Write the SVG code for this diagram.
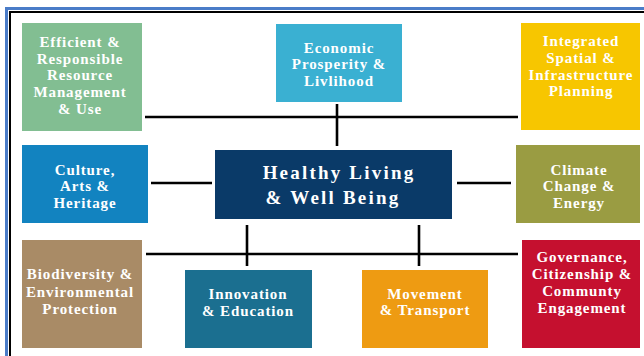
<svg xmlns="http://www.w3.org/2000/svg" width="644" height="356" viewBox="0 0 644 356">
  <style>
    .lbl { font-family: "Liberation Serif", "Times New Roman", serif; font-weight: bold; font-size: 15px; letter-spacing: 0.9px; fill: #ffffff; text-anchor: middle; }
    .big { font-size: 19px; letter-spacing: 2.2px; }
    .link { stroke: #000000; stroke-width: 2.6; fill: none; }
  </style>
  <rect x="0" y="0" width="644" height="356" fill="#ffffff"/>
  <!-- frame: blue outer edge with a thin black inner rule -->
  <rect x="6.5" y="8.5" width="660" height="370" fill="none" stroke="#4a7cc8" stroke-width="3"/>
  <rect x="10" y="12" width="650" height="360" fill="none" stroke="#000000" stroke-width="2"/>

  <g id="connectors">
    <line class="link" x1="145" y1="117" x2="518" y2="117"/>
    <line class="link" x1="337" y1="104" x2="337" y2="146"/>
    <line class="link" x1="151" y1="183" x2="212" y2="183"/>
    <line class="link" x1="457" y1="183" x2="511" y2="183"/>
    <line class="link" x1="146" y1="254" x2="518" y2="254"/>
    <line class="link" x1="247" y1="225" x2="247" y2="266"/>
    <line class="link" x1="419" y1="225" x2="419" y2="266"/>
  </g>

  <g id="efficient">
    <rect x="22" y="23" width="120" height="108" fill="#82be92"/>
    <text class="lbl" x="80" y="47">Efficient &amp;</text>
    <text class="lbl" x="80" y="64">Responsible</text>
    <text class="lbl" x="80" y="80">Resource</text>
    <text class="lbl" x="80" y="97">Management</text>
    <text class="lbl" x="80" y="114">&amp; Use</text>
  </g>

  <g id="economic">
    <rect x="276" y="24" width="126" height="78" fill="#3ab0d2"/>
    <text class="lbl" x="339" y="53">Economic</text>
    <text class="lbl" x="339" y="69">Prosperity &amp;</text>
    <text class="lbl" x="339" y="86">Livlihood</text>
  </g>

  <g id="integrated">
    <rect x="521" y="23" width="119" height="107" fill="#f7c600"/>
    <text class="lbl" x="581" y="46">Integrated</text>
    <text class="lbl" x="581" y="63">Spatial &amp;</text>
    <text class="lbl" x="581" y="80">Infrastructure</text>
    <text class="lbl" x="581" y="96">Planning</text>
  </g>

  <g id="culture">
    <rect x="22" y="145" width="126" height="78" fill="#1283c0"/>
    <text class="lbl" x="85" y="175">Culture,</text>
    <text class="lbl" x="85" y="191">Arts &amp;</text>
    <text class="lbl" x="85" y="208">Heritage</text>
  </g>

  <g id="healthy">
    <rect x="215" y="150" width="237" height="69" fill="#0a3a68"/>
    <text class="lbl big" x="339" y="179">Healthy Living</text>
    <text class="lbl big" x="333" y="204">&amp; Well Being</text>
  </g>

  <g id="climate">
    <rect x="516" y="145" width="124" height="78" fill="#9a9c42"/>
    <text class="lbl" x="579" y="175">Climate</text>
    <text class="lbl" x="579" y="191">Change &amp;</text>
    <text class="lbl" x="579" y="208">Energy</text>
  </g>

  <g id="biodiversity">
    <rect x="22" y="240" width="120" height="108" fill="#a98b66"/>
    <text class="lbl" x="80" y="279">Biodiversity &amp;</text>
    <text class="lbl" x="80" y="297">Environmental</text>
    <text class="lbl" x="80" y="314">Protection</text>
  </g>

  <g id="innovation">
    <rect x="185" y="270" width="127" height="78" fill="#1b6f90"/>
    <text class="lbl" x="248" y="299">Innovation</text>
    <text class="lbl" x="248" y="316">&amp; Education</text>
  </g>

  <g id="movement">
    <rect x="362" y="270" width="126" height="78" fill="#ee9b12"/>
    <text class="lbl" x="425" y="299">Movement</text>
    <text class="lbl" x="425" y="315">&amp; Transport</text>
  </g>

  <g id="governance">
    <rect x="522" y="240" width="118" height="108" fill="#c5102f"/>
    <text class="lbl" x="582" y="262">Governance,</text>
    <text class="lbl" x="582" y="279">Citizenship &amp;</text>
    <text class="lbl" x="582" y="296">Communty</text>
    <text class="lbl" x="582" y="313">Engagement</text>
  </g>
</svg>
